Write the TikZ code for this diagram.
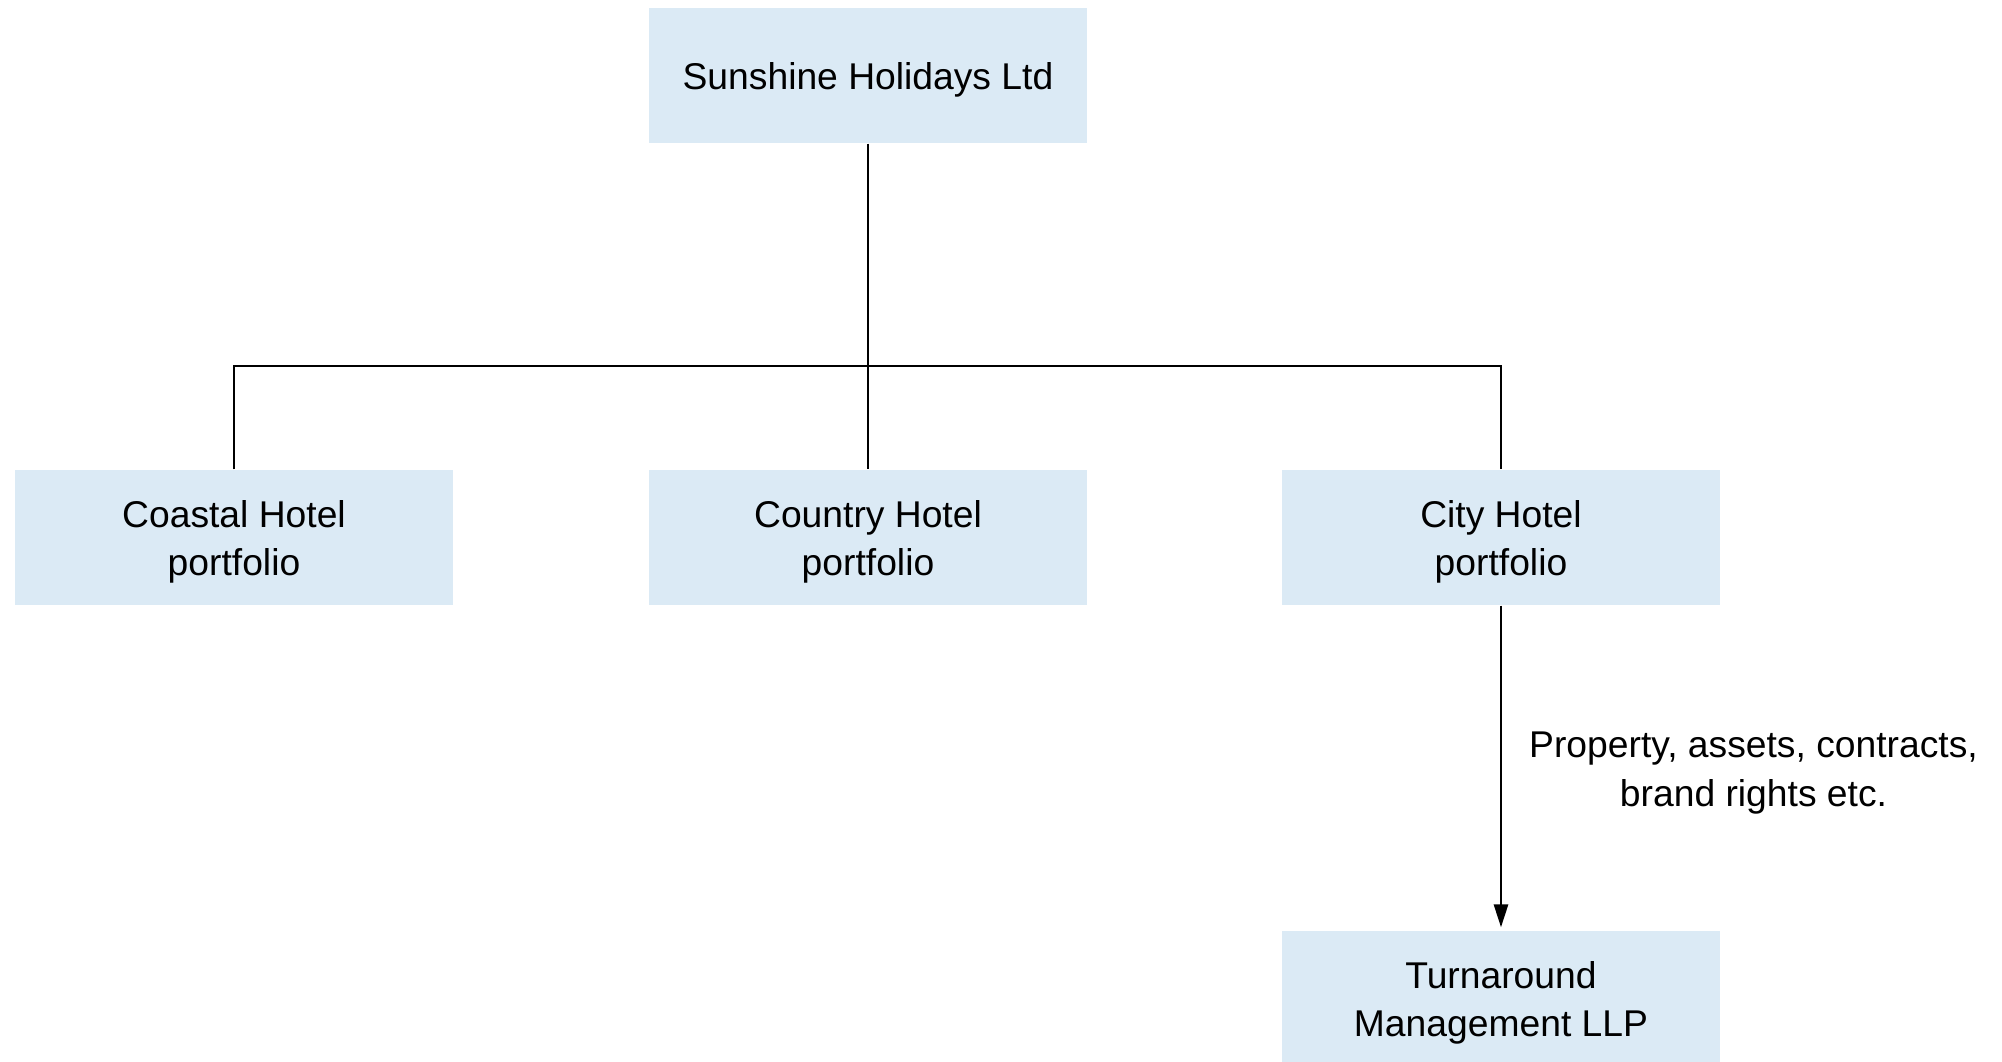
\documentclass[tikz,border=0pt]{standalone}
\usepackage{fontspec}
\setmainfont{Liberation Sans}
\usetikzlibrary{arrows.meta}
\definecolor{bleuclair}{RGB}{219,234,245}
\newcommand{\hausse}{\rule{0pt}{10.3pt}}
\begin{document}
\begin{tikzpicture}[scale=1,
  texte/.style={align=center,font=\fontsize{10.6}{13.8}\selectfont},
  boite/.style={texte,fill=bleuclair,minimum width=4.38cm,minimum height=1.35cm,inner sep=0pt},
  trait/.style={line width=0.4pt},
  fleche/.style={line width=0.7pt,-{Triangle[width=4pt,length=6.5pt]},shorten >=0.3mm}]
\pgfmathsetmacro{\largeur}{20.02}
\pgfmathsetmacro{\hauteur}{10.62}
\useasboundingbox (0,0) rectangle (\largeur,-\hauteur);
\pgfmathsetmacro{\xgauche}{2.34}
\pgfmathsetmacro{\xmilieu}{8.68}
\pgfmathsetmacro{\xdroite}{15.01}
\pgfmathsetmacro{\yhaut}{-0.754}
\pgfmathsetmacro{\ymilieu}{-5.375}
\pgfmathsetmacro{\ybas}{-9.985}
\pgfmathsetmacro{\ybranche}{-3.66}
\pgfmathsetmacro{\ecart}{0.27}
  \node[boite] (sunshine) at (\xmilieu,\yhaut) {\hausse Sunshine Holidays Ltd};
  \node[boite] (coastal) at (\xgauche,\ymilieu) {\hausse Coastal Hotel\\portfolio};
  \node[boite] (country) at (\xmilieu,\ymilieu) {\hausse Country Hotel\\portfolio};
  \node[boite] (city) at (\xdroite,\ymilieu) {\hausse City Hotel\\portfolio};
  \node[boite] (turnaround) at (\xdroite,\ybas) {\hausse Turnaround\\Management LLP};
  \coordinate (branche) at (\xmilieu,\ybranche);
 \draw[trait] (sunshine.south) -- (country.north);
 \draw[trait] (coastal.north) |- (branche) -| (city.north);
 \draw[fleche] (city.south) -- node[right=\ecart cm,inner sep=0pt,texte] {\hausse Property, assets, contracts,\\brand rights etc.} (turnaround.north);
    \end{tikzpicture}
\end{document}
